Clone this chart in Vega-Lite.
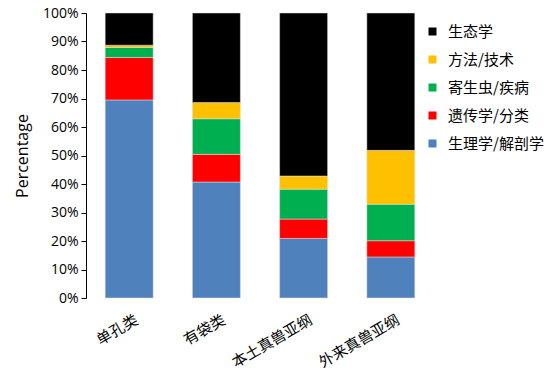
{
  "$schema": "https://vega.github.io/schema/vega-lite/v6.json",
  "width": 348,
  "height": 285,
  "autosize": "none",
  "padding": {"left": 86, "top": 13, "right": 114, "bottom": 74},
  "background": "white",
  "data": {"values": [
    {"g": "单孔类", "c": "生理学/解剖学", "o": 1, "v": 69.5},
    {"g": "单孔类", "c": "遗传学/分类", "o": 2, "v": 14.9},
    {"g": "单孔类", "c": "寄生虫/疾病", "o": 3, "v": 3.5},
    {"g": "单孔类", "c": "方法/技术", "o": 4, "v": 0.8},
    {"g": "单孔类", "c": "生态学", "o": 5, "v": 11.3},
    {"g": "有袋类", "c": "生理学/解剖学", "o": 1, "v": 40.7},
    {"g": "有袋类", "c": "遗传学/分类", "o": 2, "v": 9.7},
    {"g": "有袋类", "c": "寄生虫/疾病", "o": 3, "v": 12.5},
    {"g": "有袋类", "c": "方法/技术", "o": 4, "v": 5.7},
    {"g": "有袋类", "c": "生态学", "o": 5, "v": 31.4},
    {"g": "本土真兽亚纲", "c": "生理学/解剖学", "o": 1, "v": 20.9},
    {"g": "本土真兽亚纲", "c": "遗传学/分类", "o": 2, "v": 6.8},
    {"g": "本土真兽亚纲", "c": "寄生虫/疾病", "o": 3, "v": 10.5},
    {"g": "本土真兽亚纲", "c": "方法/技术", "o": 4, "v": 4.6},
    {"g": "本土真兽亚纲", "c": "生态学", "o": 5, "v": 57.2},
    {"g": "外来真兽亚纲", "c": "生理学/解剖学", "o": 1, "v": 14.4},
    {"g": "外来真兽亚纲", "c": "遗传学/分类", "o": 2, "v": 5.7},
    {"g": "外来真兽亚纲", "c": "寄生虫/疾病", "o": 3, "v": 12.8},
    {"g": "外来真兽亚纲", "c": "方法/技术", "o": 4, "v": 18.9},
    {"g": "外来真兽亚纲", "c": "生态学", "o": 5, "v": 48.2}
  ]},
  "mark": {"type": "bar", "stroke": "#e0e0e0", "strokeWidth": 0.5},
  "encoding": {
    "x": {
      "field": "g", "type": "nominal", "sort": ["单孔类", "有袋类", "本土真兽亚纲", "外来真兽亚纲"],
      "scale": {"paddingInner": 0.45, "paddingOuter": 0.22},
      "axis": {"title": null, "domain": false, "ticks": false, "labelAngle": -30, "labelAlign": "right", "labelBaseline": "top",
        "labelFont": "Noto Sans CJK SC", "labelFontSize": 15, "labelColor": "#000", "labelPadding": 14, "labelOffset": 4}
    },
    "y": {
      "field": "v", "type": "quantitative", "stack": "zero",
      "scale": {"domain": [0, 100], "nice": false},
      "axis": {"title": "Percentage", "titleFont": "Open Sans", "titleFontSize": 16, "titleFontWeight": "normal", "titleColor": "#000",
        "titlePadding": 12,
        "values": [0,10,20,30,40,50,60,70,80,90,100], "labelExpr": "datum.value + '%'",
        "labelFont": "Open Sans", "labelFontSize": 14, "labelColor": "#000", "grid": false,
        "domainColor": "#000", "tickColor": "#000", "tickSize": 5, "labelPadding": 3}
    },
    "color": {
      "field": "c", "type": "nominal",
      "scale": {"domain": ["生态学", "方法/技术", "寄生虫/疾病", "遗传学/分类", "生理学/解剖学"],
        "range": ["#000000", "#FFC000", "#00B050", "#FF0000", "#4F81BD"]},
      "legend": {"title": null, "orient": "none", "legendX": 339, "legendY": 11, "symbolType": "square", "symbolSize": 64,
        "symbolStrokeWidth": 0, "labelFont": "Noto Sans CJK SC", "labelFontSize": 15, "labelColor": "#000", "rowPadding": 12, "labelOffset": 8, "labelLimit": 200}
    },
    "order": {"field": "o", "type": "quantitative"}
  },
  "config": {"view": {"stroke": null}}
}
